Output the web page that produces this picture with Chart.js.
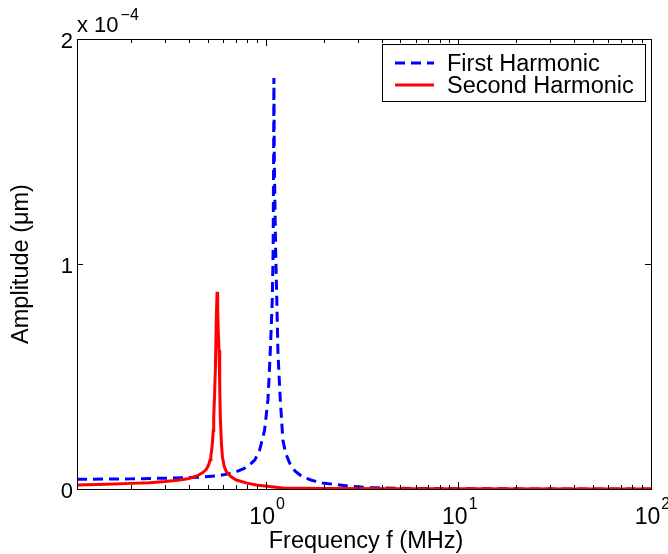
<!DOCTYPE html>
<html>
<head>
<meta charset="utf-8">
<title>Harmonic amplitude vs frequency</title>
<script src="https://cdn.jsdelivr.net/npm/chart.js@4.4.1/dist/chart.umd.min.js"></script>
<style>
  html, body { margin: 0; padding: 0; background: #fff; }
  canvas { display: block; }
</style>
</head>
<body>
<canvas id="ampChart" width="668" height="554"></canvas>
<script>
// frequency in MHz, amplitude in units of 1e-4 um
var firstFreq = [0.105, 0.2, 0.3, 0.45, 0.555, 0.63, 0.705, 0.77, 0.826, 0.88, 0.931, 0.988,
    1.028, 1.043, 1.058, 1.083, 1.094, 1.1, 1.104, 1.11, 1.127, 1.143, 1.158, 1.175, 1.192, 1.229,
    1.27, 1.331, 1.42, 1.555, 1.75, 1.97, 2.72, 3.5, 5, 10, 30, 100];
var firstAmp = [0.043, 0.045, 0.048, 0.052, 0.058, 0.066, 0.077, 0.09, 0.107, 0.13, 0.173, 0.262,
    0.396, 0.5, 0.618, 0.84, 1.062, 1.45, 1.827, 1.45, 1.062, 0.84, 0.618, 0.5, 0.396, 0.218,
    0.16, 0.116, 0.08, 0.053, 0.038, 0.027, 0.012, 0.006, 0.003, 0.001, 0.0003, 0.0001];

var secondFreq = [0.105, 0.15, 0.2, 0.25, 0.3, 0.35, 0.4, 0.44, 0.47, 0.49, 0.5, 0.51, 0.515, 0.52,
    0.525, 0.53, 0.535, 0.538, 0.544, 0.549, 0.555, 0.56, 0.564, 0.568, 0.573, 0.578, 0.582, 0.59,
    0.597, 0.61, 0.626, 0.66, 0.705, 0.8, 0.895, 1.225, 2, 5, 100];
var secondAmp = [0.018, 0.021, 0.025, 0.028, 0.033, 0.039, 0.047, 0.058, 0.072, 0.085, 0.098, 0.115, 0.13, 0.15,
    0.173, 0.21, 0.26, 0.32, 0.43, 0.542, 0.764, 0.876, 0.8, 0.7, 0.618, 0.45, 0.32, 0.2,
    0.142, 0.1, 0.076, 0.055, 0.04, 0.026, 0.018, 0.004, 0.002, 0.001, 0.0003];

var seriesNames = ['First Harmonic', 'Second Harmonic'];
var xMajorTicks = [1, 10, 100];
var xTickExponents = ['0', '1', '2'];
var yTicks = [0, 1, 2];
var yTickLabels = ['0', '1', '2'];

var FONT = '"Liberation Sans", Arial, Helvetica, sans-serif';

function toPoints(xs, ys) {
    return xs.map(function(x, i) { return { x: x, y: ys[i] }; });
}

// box, inward ticks, tick labels, axis titles and legend in matlab style
var axesBox = {
    id: 'axesBox',
    afterDraw: function(chart) {
        var ctx = chart.ctx;
        var a = chart.chartArea;
        var xs = chart.scales.x;
        var ys = chart.scales.y;
        ctx.save();

        ctx.strokeStyle = '#000';
        ctx.lineWidth = 1;
        ctx.strokeRect(Math.round(a.left) + 0.5, Math.round(a.top) + 0.5,
            Math.round(a.right - a.left), Math.round(a.bottom - a.top));

        // log x ticks, major and minor, top and bottom
        var drawXTick = function(v, len) {
            var px = Math.round(xs.getPixelForValue(v)) + 0.5;
            ctx.beginPath();
            ctx.moveTo(px, a.bottom); ctx.lineTo(px, a.bottom - len);
            ctx.moveTo(px, a.top); ctx.lineTo(px, a.top + len);
            ctx.stroke();
        };
        [0.1, 1, 10].forEach(function(dec) {
            for (var k = 2; k <= 9; k++) {
                var v = dec * k;
                if (v > xs.min && v < xs.max) drawXTick(v, 4);
            }
        });
        xMajorTicks.forEach(function(v) { drawXTick(v, 7); });

        yTicks.forEach(function(v) {
            var py = Math.round(ys.getPixelForValue(v)) + 0.5;
            ctx.beginPath();
            ctx.moveTo(a.left, py); ctx.lineTo(a.left + 6, py);
            ctx.moveTo(a.right, py); ctx.lineTo(a.right - 6, py);
            ctx.stroke();
        });

        ctx.fillStyle = '#000';

        // y tick labels
        ctx.font = '22px ' + FONT;
        ctx.textAlign = 'right';
        ctx.textBaseline = 'alphabetic';
        yTicks.forEach(function(v, i) {
            ctx.fillText(yTickLabels[i], a.left - 4, ys.getPixelForValue(v) + 9);
        });

        // x tick labels as powers of ten
        xMajorTicks.forEach(function(v, i) {
            var px = xs.getPixelForValue(v);
            ctx.font = '23px ' + FONT;
            var w1 = ctx.measureText('10').width;
            ctx.font = '16px ' + FONT;
            var w2 = ctx.measureText(xTickExponents[i]).width;
            var x0 = px - (w1 + w2) / 2 + 1;
            ctx.textAlign = 'left';
            ctx.font = '23px ' + FONT;
            ctx.fillText('10', x0, 524);
            ctx.font = '16px ' + FONT;
            ctx.fillText(xTickExponents[i], x0 + w1 + 1, 509);
        });

        // exponent factor above the y axis
        ctx.font = '22px ' + FONT;
        ctx.textAlign = 'left';
        ctx.fillText('x 10', a.left, 32);
        var wf = ctx.measureText('x 10').width;
        ctx.font = '16px ' + FONT;
        ctx.fillText('\u22124', a.left + wf + 2, 20);

        // axis titles
        ctx.font = '23.5px ' + FONT;
        ctx.textAlign = 'center';
        ctx.fillText('Frequency f (MHz)', (a.left + a.right) / 2 + 2, 548);
        ctx.save();
        ctx.translate(28, (a.top + a.bottom) / 2);
        ctx.rotate(-Math.PI / 2);
        ctx.fillText('Amplitude (\u03bcm)', 0, 0);
        ctx.restore();

        // legend box
        var lx = 382.5, ly = 44.5, lw = 263, lh = 57;
        ctx.fillStyle = '#fff';
        ctx.fillRect(lx, ly, lw, lh);
        ctx.strokeStyle = '#000';
        ctx.lineWidth = 1;
        ctx.strokeRect(lx, ly, lw, lh);
        chart.data.datasets.forEach(function(ds, i) {
            var yy = 63 + i * 22;
            ctx.save();
            ctx.strokeStyle = ds.borderColor;
            ctx.lineWidth = ds.borderWidth;
            ctx.setLineDash(ds.borderDash || []);
            ctx.beginPath();
            ctx.moveTo(395, yy); ctx.lineTo(434, yy);
            ctx.stroke();
            ctx.restore();
            ctx.fillStyle = '#000';
            ctx.font = '23.5px ' + FONT;
            ctx.textAlign = 'left';
            ctx.fillText(ds.label, 447, yy + 8);
        });

        ctx.restore();
    }
};

var bgWhite = {
    id: 'bgWhite',
    beforeDraw: function(chart) {
        var ctx = chart.ctx;
        ctx.save();
        ctx.fillStyle = '#fff';
        ctx.fillRect(0, 0, chart.width, chart.height);
        ctx.restore();
    }
};

new Chart(document.getElementById('ampChart').getContext('2d'), {
    type: 'line',
    data: {
        datasets: [{
            label: seriesNames[0],
            data: toPoints(firstFreq, firstAmp),
            borderColor: '#0000ff',
            borderWidth: 3,
            borderDash: [10, 6],
            pointRadius: 0,
            tension: 0,
            order: 1
        }, {
            label: seriesNames[1],
            data: toPoints(secondFreq, secondAmp),
            borderColor: '#ff0000',
            borderWidth: 3,
            pointRadius: 0,
            tension: 0,
            order: 0
        }]
    },
    options: {
        responsive: false,
        animation: false,
        devicePixelRatio: 1,
        layout: { padding: { top: 39, right: 17, left: 0, bottom: 0 } },
        plugins: {
            legend: { display: false },
            tooltip: { enabled: false }
        },
        scales: {
            x: {
                type: 'logarithmic',
                min: 0.105,
                max: 100,
                ticks: { display: false },
                grid: { display: false },
                border: { display: false },
                afterFit: function(scale) { scale.height = 65; }
            },
            y: {
                type: 'linear',
                min: 0,
                max: 2,
                ticks: { display: false },
                grid: { display: false },
                border: { display: false },
                afterFit: function(scale) { scale.width = 77; }
            }
        }
    },
    plugins: [bgWhite, axesBox]
});
</script>
</body>
</html>
